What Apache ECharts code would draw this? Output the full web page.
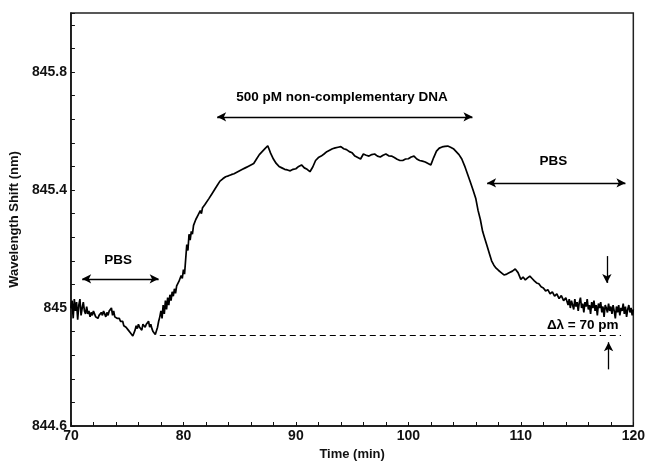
<!DOCTYPE html>
<html>
<head>
<meta charset="utf-8">
<script src="https://cdn.jsdelivr.net/npm/echarts@6/dist/echarts.min.js"></script>
<style>html,body{margin:0;padding:0;background:#fff;}#chart{width:648px;height:466px;}</style>
</head>
<body>
<div id="chart"></div>
<script>
// time (min), wavelength shift (nm)
const signal = [
[70.0,845.00],[70.1,845.025],[70.2,844.965],[70.3,845.03],[70.4,844.99],[70.5,845.02],[70.6,844.96],[70.7,845.01],[70.8,845.03],[70.9,844.975],
[71.0,845.00],[71.1,845.02],[71.2,844.99],[71.3,844.98],[71.4,845.005],[71.5,844.98],[71.6,844.99],[71.7,844.97],[71.8,844.985],[71.9,844.975],
[72.0,844.99],[72.1,844.98],[72.2,844.97],[72.3,844.975],[72.4,844.965],[72.5,844.975],[72.6,844.97],[72.7,844.985],[72.8,844.975],[72.9,844.99],
[73.0,844.98],[73.1,844.97],[73.2,844.985],[73.3,844.975],[73.4,844.99],[73.5,844.985],[73.6,845.00],[73.7,844.975],[73.8,844.99],[73.9,844.97],
[74.0,844.975],[74.1,844.965],[74.2,844.96],[74.3,844.965],[74.4,844.955],[74.5,844.95],[74.6,844.955],[74.7,844.94],[74.8,844.945],[74.9,844.935],
[75.0,844.93],[75.1,844.925],[75.2,844.92],[75.3,844.915],[75.4,844.91],[75.5,844.905],[75.6,844.91],[75.7,844.925],[75.8,844.94],[75.9,844.93],
[76.0,844.945],[76.1,844.935],[76.2,844.94],[76.3,844.925],[76.4,844.945],[76.5,844.95],[76.6,844.935],[76.7,844.945],[76.8,844.94],[76.9,844.955],
[77.0,844.935],[77.1,844.945],[77.2,844.93],[77.3,844.92],[77.4,844.915],[77.5,844.91],[77.6,844.915],[77.7,844.935],[77.8,844.955],[77.9,844.97],
[78.0,844.99],[78.1,844.965],[78.2,845.01],[78.3,844.98],[78.4,845.025],[78.5,844.995],[78.6,845.035],[78.7,845.01],[78.8,845.045],[78.9,845.025],
[79.0,845.055],[79.1,845.04],[79.2,845.065],[79.3,845.05],[79.4,845.075],[79.5,845.07],[79.6,845.09],[79.7,845.085],[79.8,845.11],[79.9,845.10],
[80.0,845.13],[80.1,845.115],[80.2,845.165],[80.3,845.215],[80.4,845.195],[80.5,845.25],[80.6,845.23],[80.7,845.26],[80.8,845.25],[80.9,845.28],
[81.0,845.285],[81.1,845.30],[81.2,845.295],[81.3,845.315],[81.4,845.31],[81.5,845.33],[81.6,845.32],[81.7,845.34],[81.8,845.335],[81.9,845.35],
[82.0,845.355],[82.25,845.37],[82.5,845.385],[82.75,845.40],[83.0,845.415],[83.25,845.43],[83.5,845.438],[83.75,845.445],[84.0,845.448],[84.25,845.452],
[84.5,845.455],[84.75,845.46],[85.0,845.465],[85.25,845.47],[85.5,845.475],[85.75,845.48],[86.0,845.485],[86.25,845.49],[86.5,845.505],[86.75,845.52],
[87.0,845.53],[87.25,845.54],[87.5,845.55],[87.75,845.525],[88.0,845.505],[88.25,845.49],[88.5,845.48],[88.75,845.475],[89.0,845.47],[89.25,845.468],
[89.5,845.465],[89.75,845.47],[90.0,845.472],[90.25,845.48],[90.5,845.485],[90.75,845.475],[91.0,845.47],[91.25,845.462],[91.5,845.478],[91.75,845.50],
[92.0,845.51],[92.25,845.515],[92.5,845.522],[92.75,845.53],[93.0,845.535],[93.25,845.54],[93.5,845.543],[93.75,845.545],[94.0,845.547],[94.25,845.54],
[94.5,845.537],[94.75,845.53],[95.0,845.526],[95.25,845.515],[95.5,845.51],[95.75,845.505],[96.0,845.522],[96.25,845.518],[96.5,845.515],[96.75,845.52],
[97.0,845.522],[97.25,845.515],[97.5,845.512],[97.75,845.518],[98.0,845.522],[98.25,845.516],[98.5,845.515],[98.75,845.51],[99.0,845.504],[99.25,845.50],
[99.5,845.50],[99.75,845.505],[100.0,845.506],[100.25,845.512],[100.5,845.515],[100.75,845.505],[101.0,845.50],[101.25,845.498],[101.5,845.495],[101.75,845.49],
[102.0,845.485],[102.25,845.51],[102.5,845.532],[102.75,845.542],[103.0,845.546],[103.25,845.548],[103.5,845.549],[103.75,845.545],[104.0,845.54],[104.25,845.53],
[104.5,845.52],[104.75,845.505],[105.0,845.482],[105.25,845.455],[105.5,845.428],[105.75,845.40],[106.0,845.37],[106.2,845.33],[106.4,845.30],[106.6,845.26],
[106.8,845.235],[107.0,845.21],[107.2,845.185],[107.4,845.16],[107.6,845.145],[107.8,845.135],[108.0,845.128],[108.25,845.12],[108.5,845.112],[108.75,845.115],
[109.0,845.12],[109.25,845.125],[109.5,845.132],[109.75,845.12],[110.0,845.097],[110.2,845.105],[110.4,845.095],[110.6,845.102],[110.8,845.108],[111.0,845.10],
[111.2,845.092],[111.4,845.085],[111.6,845.082],[111.8,845.072],[112.0,845.068],[112.2,845.058],[112.4,845.062],[112.6,845.048],[112.8,845.055],[113.0,845.04],
[113.2,845.048],[113.4,845.032],[113.6,845.042],[113.8,845.025],[114.0,845.035],
[114.1,845.04],[114.2,845.01],[114.3,845.03],[114.4,845.00],[114.5,845.025],[114.6,845.01],[114.7,844.995],[114.8,845.03],[114.9,845.005],[115.0,845.02],
[115.1,844.99],[115.2,845.02],[115.3,845.035],[115.4,845.00],[115.5,845.015],[115.6,844.985],[115.7,845.02],[115.8,845.005],[115.9,845.03],[116.0,844.995],
[116.1,845.01],[116.2,844.98],[116.3,845.02],[116.4,845.00],[116.5,845.025],[116.6,844.99],[116.7,845.01],[116.8,844.975],[116.9,845.015],[117.0,845.00],
[117.1,845.02],[117.2,844.985],[117.3,845.005],[117.4,844.97],[117.5,845.01],[117.6,845.00],[117.7,844.985],[117.8,845.015],[117.9,844.99],[118.0,845.005],
[118.1,844.98],[118.2,845.01],[118.3,844.99],[118.4,844.965],[118.5,845.005],[118.6,844.985],[118.7,845.01],[118.8,844.975],[118.9,845.00],[119.0,844.99],
[119.1,845.015],[119.2,844.98],[119.3,845.005],[119.4,844.97],[119.5,844.995],[119.6,845.01],[119.7,844.985],[119.8,845.00],[119.9,844.975],[120.0,844.995]
];

// annotation arrows: [x1, y1, x2, y2, startSymbol, endSymbol]
const arrows = [
  [71.0, 845.099, 77.8, 845.099, 'arrow', 'arrow'],
  [83.0, 845.648, 105.7, 845.648, 'arrow', 'arrow'],
  [107.0, 845.424, 119.3, 845.424, 'arrow', 'arrow'],
  [117.65, 845.176, 117.65, 845.085, 'none', 'arrow'],
  [117.8, 844.792, 117.8, 844.884, 'none', 'arrow']
];
// baseline dashed line: [xStart, xEnd, y]
const baseline = [77.9, 118.9, 844.908];
// annotation texts: [x, y, text]
const notes = [
  [74.2, 845.162, 'PBS'],
  [94.1, 845.714, '500 pM non-complementary DNA'],
  [112.9, 845.496, 'PBS'],
  [115.5, 844.94, 'Δλ = 70 pm']
];
const xTicks = [70, 80, 90, 100, 110, 120];
const yTicks = ['844.6', '845', '845.4', '845.8'];

const FONT = '"Liberation Sans", Arial, sans-serif';
const chart = echarts.init(document.getElementById('chart'), null, {renderer: 'canvas'});

const arrowLines = arrows.map(a => [
  {coord: [a[0], a[1]], symbol: a[4]},
  {coord: [a[2], a[3]], symbol: a[5]}
]);

chart.setOption({
  animation: false,
  backgroundColor: '#fff',
  grid: {left: 70, right: 11, top: 13, bottom: 37, show: true, borderColor: '#222', borderWidth: 1.5, backgroundColor: 'transparent'},
  xAxis: {
    type: 'value', min: 70, max: 120, interval: 2,
    name: 'Time (min)', nameLocation: 'middle', nameGap: 22,
    nameTextStyle: {fontFamily: FONT, fontWeight: 'bold', fontSize: 13, color: '#111'},
    axisLine: {show: true, lineStyle: {color: '#111', width: 1.5}},
    axisTick: {show: true, inside: true, length: 4, lineStyle: {color: '#111', width: 1}},
    splitLine: {show: false},
    axisLabel: {
      margin: 3, fontFamily: FONT, fontWeight: 'bold', fontSize: 14, color: '#111',
      formatter: v => { const r = Math.round(v); return xTicks.indexOf(r) >= 0 && Math.abs(v - r) < 1e-6 ? String(r) : ''; }
    }
  },
  yAxis: {
    type: 'value', min: 844.6, max: 846.0, interval: 0.08,
    name: 'Wavelength Shift (nm)', nameLocation: 'middle', nameGap: 42,
    nameTextStyle: {fontFamily: FONT, fontWeight: 'bold', fontSize: 13, color: '#111'},
    axisLine: {show: true, lineStyle: {color: '#111', width: 1.5}},
    axisTick: {show: true, inside: true, length: 4, lineStyle: {color: '#111', width: 1}},
    splitLine: {show: false},
    axisLabel: {
      margin: 4, fontFamily: FONT, fontWeight: 'bold', fontSize: 14, color: '#111',
      formatter: v => {
        for (const t of yTicks) { if (Math.abs(v - parseFloat(t)) < 1e-4) return t; }
        return '';
      }
    }
  },
  series: [{
    type: 'line',
    data: signal,
    showSymbol: false,
    symbol: 'none',
    lineStyle: {color: '#000', width: 1.7},
    z: 3,
    markLine: {
      silent: true,
      animation: false,
      symbolSize: [7, 9],
      label: {show: false},
      lineStyle: {color: '#000', width: 1.3, type: 'solid'},
      data: arrowLines.concat([[
        {coord: [baseline[0], baseline[2]], symbol: 'none', lineStyle: {type: [6, 4], width: 1.2, color: '#000'}},
        {coord: [baseline[1], baseline[2]], symbol: 'none'}
      ]])
    },
    markPoint: {
      silent: true,
      animation: false,
      symbol: 'circle',
      symbolSize: 0,
      label: {show: true, position: 'inside', fontFamily: FONT, fontWeight: 'bold', fontSize: 13.5, color: '#000'},
      data: notes.map(n => ({coord: [n[0], n[1]], value: n[2], label: {formatter: n[2]}}))
    }
  }]
});
</script>
</body>
</html>
